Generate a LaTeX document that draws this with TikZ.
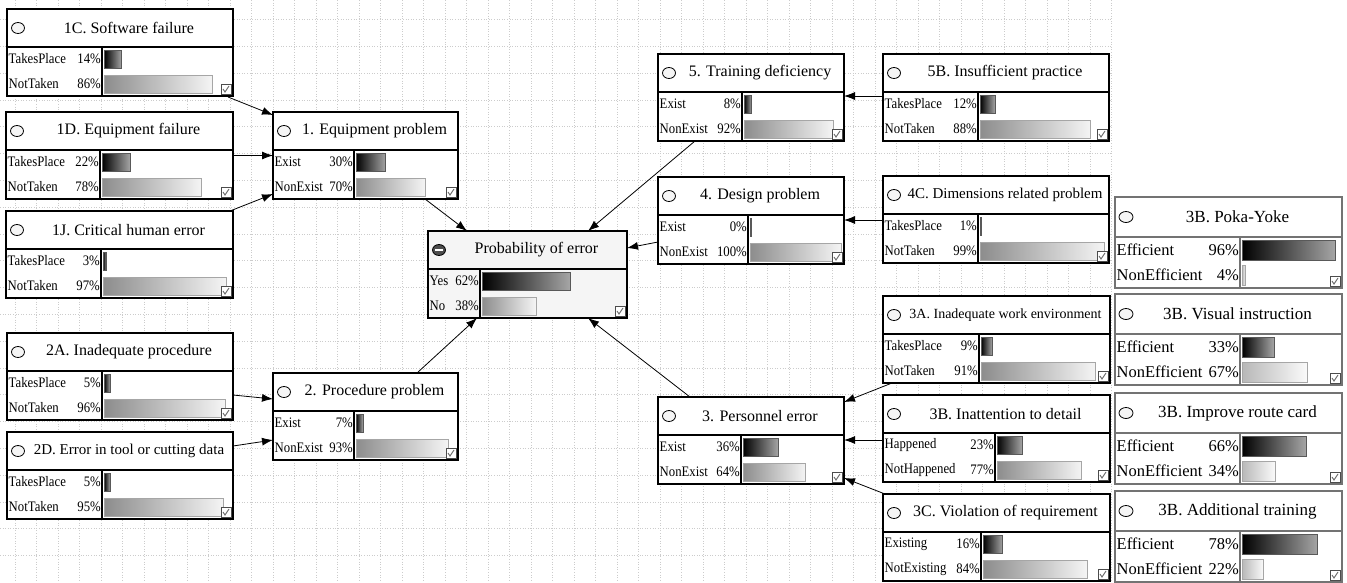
\documentclass[tikz,border=0pt]{standalone}
\usepackage{fontspec}
\setmainfont{Liberation Serif}
\newfontfamily\bncond[FakeStretch=0.88]{Liberation Serif}
\usetikzlibrary{arrows.meta,calc,shapes.geometric}

% header height, body height, bar height
\def\bnhh{38}\def\bnhb{49}\def\bnbar{18}

% #1 name, #2 top left, #3 width, #4 label column, #5 title, #6/#7 first state, #8/#9 second state
\newcommand{\bnbox}[9]{%
  \begin{scope}[shift={(#2)}]
    \pgfmathsetmacro\bnht{\bnhh+\bnhb}
    \pgfmathsetmacro\bnya{\bnhh+3}
    \pgfmathsetmacro\bnyb{\bnhh+3+\bnbar}
    \pgfmathsetmacro\bnyc{\bnhh+\bnhb-3-\bnbar}
    \pgfmathsetmacro\bnyd{\bnhh+\bnhb-3}
    \pgfmathsetmacro\bnfull{#3-#4-5}
    \node[bnframe, minimum width=#3pt, minimum height=\bnht pt, anchor=north west] (#1) at (0,0) {};
    \draw[bnline] (0,\bnhh) -- (#3,\bnhh);
    \draw[bnline] (#4,\bnhh) -- (#4,\bnht);
    \node[bnlamp] (#1-lamp) at (11,{\bnhh/2}) {};
    \node[bntitle] at ({(#3+18)/2},{\bnhh/2}) {#5};
    \path[bnbarA] (#4+2,\bnya) rectangle ({#4+2+max(1,#7*\bnfull/100)},\bnyb);
    \path[bnbarB] (#4+2,\bnyc) rectangle ({#4+2+max(1,#9*\bnfull/100)},\bnyd);
    \node[bnstate, anchor=west] at (1.5,{(\bnya+\bnyb)/2}) {#6};
    \node[bnstate, anchor=east] at (#4-1,{(\bnya+\bnyb)/2}) {#7\%};
    \node[bnstate, anchor=west] at (1.5,{(\bnyc+\bnyd)/2}) {#8};
    \node[bnstate, anchor=east] at (#4-1,{(\bnyc+\bnyd)/2}) {#9\%};
    \draw[bncheck] (#3-12,\bnht-12) rectangle (#3-2,\bnht-2);
    \draw[bntick] (#3-10,\bnht-7) -- (#3-8,\bnht-4) -- (#3-4,\bnht-10);
  \end{scope}}

\begin{document}
\begin{tikzpicture}[x=1pt, y=-1pt,
    bnframe/.style={draw, line width=1.3pt, inner sep=0pt, outer sep=0pt, fill=white},
    bnline/.style={line width=1.3pt},
    bnlamp/.style={ellipse, draw, line width=0.8pt, fill=gray!8, minimum width=13pt, minimum height=11pt, inner sep=0pt},
    bntitle/.style={font=\fontsize{16}{16}\selectfont, inner sep=0pt},
    bnstate/.style={font=\bncond\fontsize{14.5}{15}\selectfont, inner sep=0pt},
    bnbarA/.style={draw=black!65, line width=0.8pt, left color=black, right color=black!35},
    bnbarB/.style={draw=black!35, line width=0.8pt, left color=black!45, right color=black!4},
    bncheck/.style={draw=black!70, line width=0.6pt, fill=white},
    bntick/.style={draw=black!60, line width=0.9pt},
    bnarrow/.style={-{Latex[length=11pt,width=8pt]}, line width=0.8pt},
    bngrid/.style={gray!40, dotted, line width=0.6pt}
  ]
  \useasboundingbox (0,0) rectangle (1347,582);

  % grid
  \foreach \gx in {0,...,51}
    \draw[bngrid] ({15.2+21.5*\gx},0) -- ({15.2+21.5*\gx},582);
  \foreach \gy in {0,...,20}
    \draw[bngrid] (0,{19.4+26.8*\gy}) -- (1112,{19.4+26.8*\gy});

  % equipment
  \bnbox{n1C}{7,9}{226}{95}{1C. Software failure}{TakesPlace}{14}{NotTaken}{86}
  \bnbox{n1D}{6,112}{227}{94}{1D. Equipment failure}{TakesPlace}{22}{NotTaken}{78}
  \bnbox{n1J}{6,211}{227}{95}{1J. Critical human error}{TakesPlace}{3}{NotTaken}{97}
  \bnbox{n1}{273,112}{185}{81}{1. Equipment problem}{Exist}{30}{NonExist}{70}

  % procedure
  \bnbox{n2A}{7,333}{226}{95}{2A. Inadequate procedure}{TakesPlace}{5}{NotTaken}{96}
  \bnbox{n2D}{7,432}{226}{95}{\fontsize{15}{15}\selectfont 2D. Error in tool or cutting data}{TakesPlace}{5}{NotTaken}{95}
  \bnbox{n2}{273,373}{185}{81}{2. Procedure problem}{Exist}{7}{NonExist}{93}

  % training and design
  \bnbox{n5}{658,54}{186}{84}{5. Training deficiency}{Exist}{8}{NonExist}{92}
  \bnbox{n4}{658,177}{186}{90}{4. Design problem}{Exist}{0}{NonExist}{100}
  \bnbox{n5B}{883,54}{226}{95}{5B. Insufficient practice}{TakesPlace}{12}{NotTaken}{88}
  \bnbox{n4C}{883,176}{226}{95}{\fontsize{15}{15}\selectfont 4C. Dimensions related problem}{TakesPlace}{1}{NotTaken}{99}

  % personnel
  \bnbox{n3}{658,397}{186}{83}{3. Personnel error}{Exist}{36}{NonExist}{64}
  \bnbox{n3A}{883,296}{227}{96}{\fontsize{14}{14}\selectfont 3A. Inadequate work environment}{TakesPlace}{9}{NotTaken}{91}
  \bnbox{n3B}{883,395}{227}{112}{3B. Inattention to detail}{Happened}{23}{NotHappened}{77}
  \bnbox{n3C}{883,494}{227}{98}{3C. Violation of requirement}{Existing}{16}{NotExisting}{84}

  % target
  \begin{scope}[bnframe/.append style={fill=gray!8}, bnlamp/.append style={fill=black!70}]
    \bnbox{nProb}{428,231}{199}{52}{Probability of error}{Yes}{62}{No}{38}
  \end{scope}
  \draw[white, line width=1.4pt] ($(nProb-lamp.west)+(3,0)$) -- ($(nProb-lamp.east)+(-3,0)$);

  % counter measures
  \begin{scope}[bnframe/.append style={draw=black!55}, bnline/.append style={draw=black!55},
      bntitle/.append style={font=\fontsize{17}{17}\selectfont},
      bnstate/.append style={font=\fontsize{16.5}{17}\selectfont},
      bnlamp/.append style={minimum width=14pt, minimum height=11pt},
      bnbarB/.append style={left color=black!28, right color=black!2}]
    \def\bnhh{40}\def\bnhb{51}\def\bnbar{20}
    \bnbox{nPoka}{1115,197}{227}{125}{3B. Poka-Yoke}{Efficient}{96}{NonEfficient}{4}
    \bnbox{nVisual}{1115,294}{227}{125}{3B. Visual instruction}{Efficient}{33}{NonEfficient}{67}
    \bnbox{nRoute}{1115,393}{227}{125}{3B. Improve route card}{Efficient}{66}{NonEfficient}{34}
    \bnbox{nTraining}{1115,491}{227}{125}{3B. Additional training}{Efficient}{78}{NonEfficient}{22}
  \end{scope}

  % arrows
  \draw[bnarrow] ($(n1C.south east)+(-5,1)$) -- ($(n1.north west)+(0,3)$);
  \draw[bnarrow] (n1D.east) -- (n1.west);
  \draw[bnarrow] ($(n1J.north east)+(-3,0)$) -- ($(n1.south west)+(0,-5)$);
  \draw[bnarrow] ($(n2A.north east)+(0,62)$) -- ($(n2.north west)+(0,26)$);
  \draw[bnarrow] ($(n2D.north east)+(0,14)$) -- ($(n2.north west)+(0,67)$);
  \draw[bnarrow] ($(n1.south east)+(-33,0)$) -- ($(nProb.north west)+(39,0)$);
  \draw[bnarrow] ($(n2.north east)+(-41,0)$) -- ($(nProb.south west)+(49,0)$);
  \draw[bnarrow] ($(n5.south west)+(37,0)$) -- ($(nProb.north east)+(-39,0)$);
  \draw[bnarrow] ($(n4.north west)+(0,65)$) -- ($(nProb.north east)+(0,17)$);
  \draw[bnarrow] ($(n3.north west)+(32,0)$) -- ($(nProb.south east)+(-39,0)$);
  \draw[bnarrow] ($(n5B.north west)+(0,42)$) -- ($(n5.north east)+(0,42)$);
  \draw[bnarrow] ($(n4C.north west)+(0,44)$) -- ($(n4.north east)+(0,43)$);
  \draw[bnarrow] ($(n3A.south west)+(9,0)$) -- ($(n3.north east)+(0,5)$);
  \draw[bnarrow] ($(n3B.north west)+(0,45)$) -- ($(n3.north east)+(0,43)$);
  \draw[bnarrow] ($(n3C.north west)+(2,0)$) -- ($(n3.south east)+(0,-6)$);
\end{tikzpicture}
\end{document}
